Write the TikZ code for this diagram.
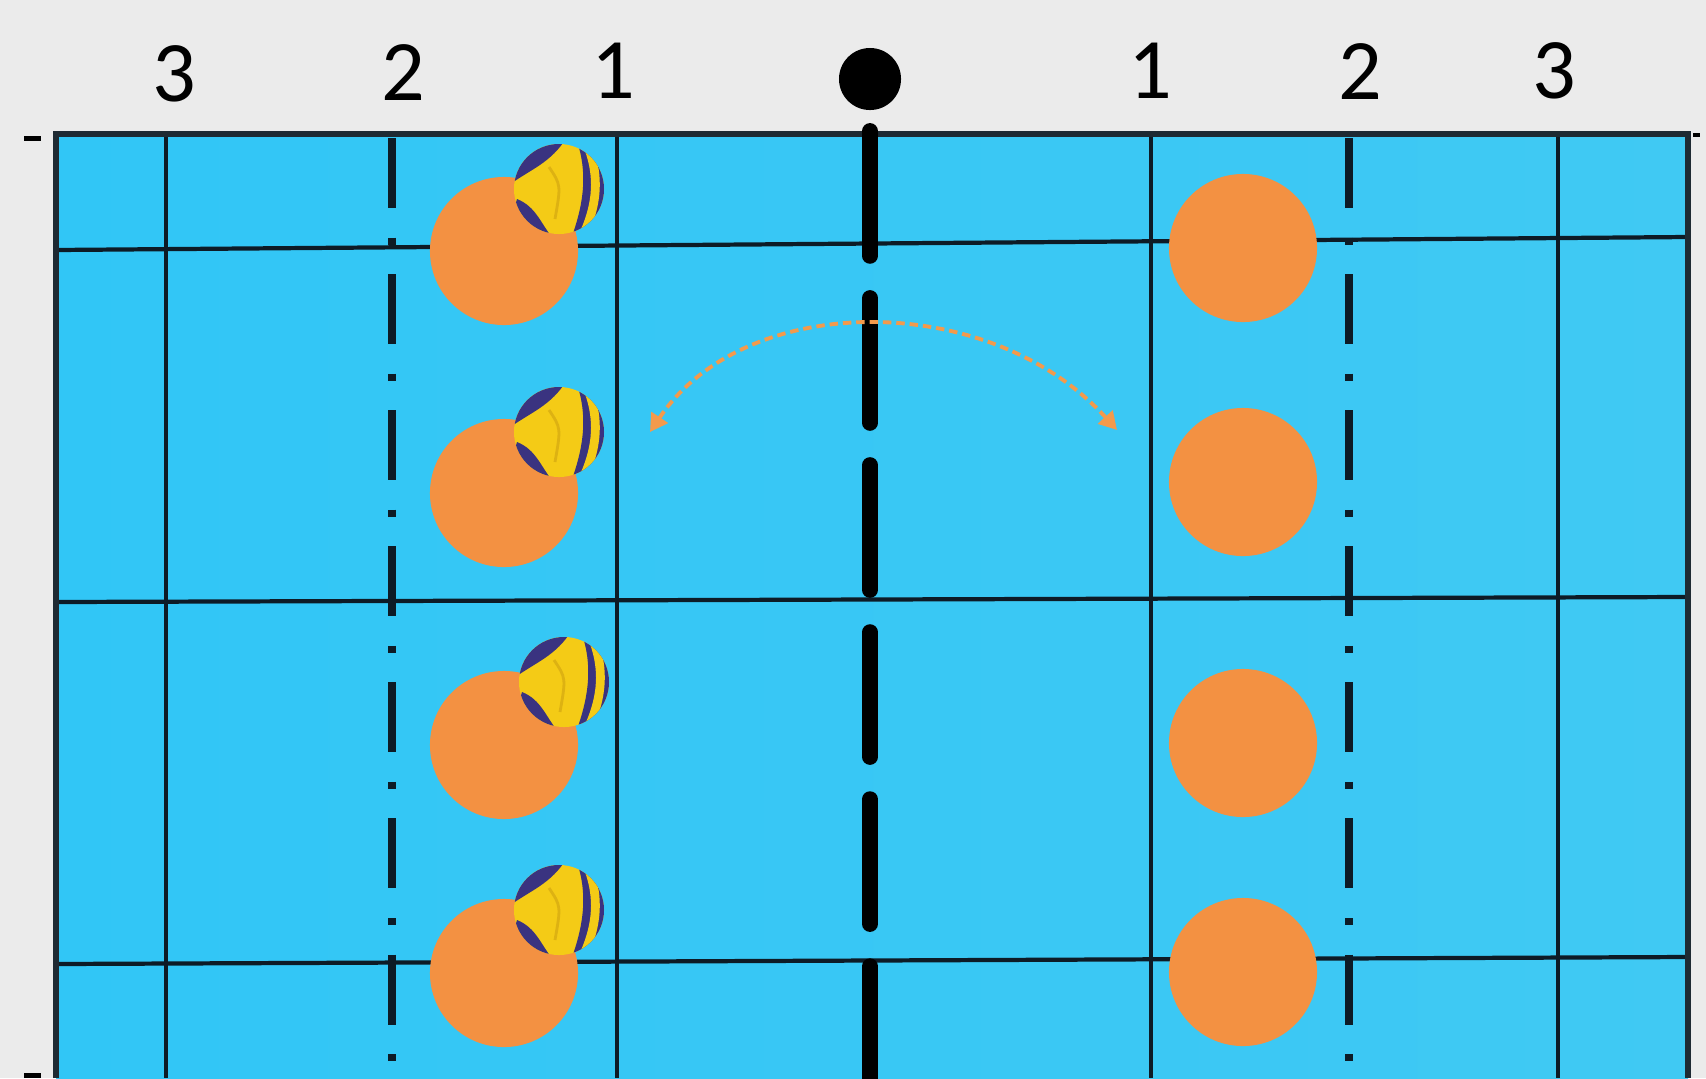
\documentclass[tikz,border=0pt]{standalone}
\usepackage{fontspec}
\setmainfont{Carlito}
\usetikzlibrary{arrows.meta}
\definecolor{bg}{HTML}{EBEBEB}
\definecolor{courtL}{HTML}{31C6F6}
\definecolor{courtR}{HTML}{40C9F3}
\definecolor{gridc}{HTML}{0D1B26}
\definecolor{playerc}{HTML}{F39142}
\definecolor{arrowc}{HTML}{F39A4C}
\definecolor{ballY}{HTML}{F4CB16}
\definecolor{ballS}{HTML}{DDB212}
\definecolor{ballB}{HTML}{3A3380}
\tikzset{
  x=0.01cm, y=-0.01cm,
  gridline/.style={draw=gridc, line width=1.2pt},
  edgeline/.style={draw=gridc!85!gray, line width=1.5pt},
  zoneline/.style={draw=gridc, line width=2.1pt,
    dash pattern=on 19.9pt off 8.4pt on 2pt off 8.4pt},
  netline/.style={draw=black, line width=4.5pt, line cap=round,
    dash pattern=on 35.5pt off 12pt},
  player/.style={circle, fill=playerc, minimum size=1.48cm, inner sep=0pt},
  ballnode/.style={circle, fill=ballY, minimum size=0.9cm, inner sep=0pt},
  zonelabel/.style={font=\fontsize{24.5}{28}\selectfont, inner sep=0pt},
  netdot/.style={circle, fill=black, minimum size=0.62cm, inner sep=0pt},
  pass/.style={draw=arrowc, line width=1.1pt, dash pattern=on 2.4pt off 1.4pt,
    {Triangle[length=5pt,width=5.5pt]}-{Triangle[length=5pt,width=5.5pt]}},
  edgetick/.style={fill=black},
}
% a volleyball: yellow sphere with navy panels
\newcommand\vball[2]{%
  \node[ballnode] (#1) at #2 {};
  \begin{scope}[shift={(#1.center)}]
    \clip (0,0) circle[radius=45];
    \fill[ballB] (-50,-4) .. controls (-28,-20) and (-8,-26) .. (8,-52)
      -- (-55,-55) -- cycle;
    \fill[ballB] (-42,10) .. controls (-22,18) and (-18,36) .. (-4,52)
      -- (-55,55) -- cycle;
    \fill[ballB] (18,-48) .. controls (28,-18) and (26,12) .. (12,50)
      -- (55,50) -- (55,-48) -- cycle;
    \draw[ballY, line width=2.5pt] (30,-40) .. controls (40,-12) and (38,14) .. (26,42);
    \draw[ballS, line width=0.8pt] (-10,-22) .. controls (2,-4) .. (-4,30);
  \end{scope}
}
\begin{document}
\begin{tikzpicture}
  \useasboundingbox (0,0) rectangle (1706,1078);
  \fill[bg] (0,0) rectangle (1706,1078);

  % court surface
  \shade[left color=courtL, right color=courtR] (56,134) rectangle (1688,1078);

  % side and attack lines
  \draw[gridline] (56,250) -- (1688,237);
  \draw[gridline] (56,602) -- (1688,597);
  \draw[gridline] (56,964) -- (1688,957);
  \foreach \lx in {166,617,1151,1558}
    \draw[gridline] (\lx,134) -- (\lx,1078);
  \foreach \lx in {392,1349}
    \draw[zoneline] (\lx,138) -- (\lx,1078);
  \draw[edgeline] (56,1078) -- (56,134) -- (1688,134) -- (1688,1078);

  % net
  \node[netdot] (net) at (870,79) {};
  \draw[netline] (870,131) -- (870,1085);

  % zone numbers
  \node[zonelabel] (zL3) at (174,74) {3};
  \node[zonelabel] (zL2) at (403,73) {2};
  \node[zonelabel] (zL1) at (613,71) {1};
  \node[zonelabel] (zR1) at (1150,71) {1};
  \node[zonelabel] (zR2) at (1360,72) {2};
  \node[zonelabel] (zR3) at (1554,71) {3};

  % small marks beside the court
  \fill[edgetick] (24,136) rectangle (41,141);
  \fill[edgetick] (24,1073) rectangle (41,1078);
  \fill[edgetick] (1693,133) rectangle (1700,137);

  % players
  \node[player] (pL1) at (504,251) {};
  \node[player] (pL2) at (504,493) {};
  \node[player] (pL3) at (504,745) {};
  \node[player] (pL4) at (504,973) {};
  \node[player] (pR1) at (1243,248) {};
  \node[player] (pR2) at (1243,482) {};
  \node[player] (pR3) at (1243,743) {};
  \node[player] (pR4) at (1243,972) {};

  % balls
  \vball{b1}{(559,189)}
  \vball{b2}{(559,432)}
  \vball{b3}{(564,682)}
  \vball{b4}{(559,910)}

  % pass over the net
  \coordinate (aL) at (650,432);
  \coordinate (aR) at (1117,430);
  \draw[pass] (aL) .. controls (745,290) and (990,290) .. (aR);
\end{tikzpicture}
\end{document}
